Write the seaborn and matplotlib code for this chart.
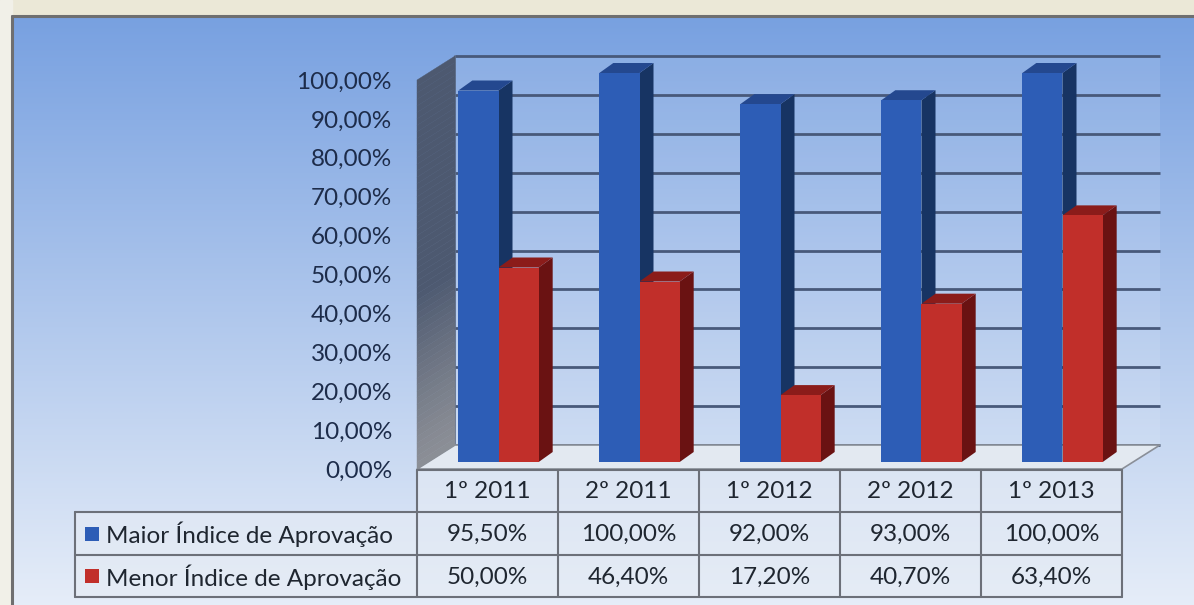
import numpy as np
import pandas as pd
import matplotlib
matplotlib.use("Agg")
import matplotlib.pyplot as plt
from matplotlib.patches import Polygon, Rectangle
from matplotlib.colors import to_hex, to_rgb
import seaborn as sns

# --- data -------------------------------------------------------------
periodos = ["1º 2011", "2º 2011", "1º 2012", "2º 2012", "1º 2013"]
maior = [95.5, 100.0, 92.0, 93.0, 100.0]
menor = [50.0, 46.4, 17.2, 40.7, 63.4]
series = ["Maior Índice de Aprovação", "Menor Índice de Aprovação"]
y_ticks = [0, 10, 20, 30, 40, 50, 60, 70, 80, 90, 100]

cores_frente = ["#2d5db6", "#c12f2a"]
cores_lado = ["#173463", "#6a1212"]
cores_topo = ["#24488f", "#8b1c1a"]


def pct(v):
    return f"{v:.2f}".replace(".", ",") + "%"


df = pd.DataFrame({
    "periodo": periodos * 2,
    "valor": maior + menor,
    "serie": [series[0]] * len(periodos) + [series[1]] * len(periodos),
})

sns.set_theme(style="white")
plt.rcParams["font.family"] = ["Lato", "DejaVu Sans"]
FS = 17.5

W, H, DPI = 1194, 605, 100
fig = plt.figure(figsize=(W / DPI, H / DPI), dpi=DPI, facecolor="#f1f0e8")

# --- background: page strip, frame and vertical gradient ---------------
bg = fig.add_axes([0, 0, 1, 1], zorder=0)
bg.set_xlim(0, W)
bg.set_ylim(H, 0)
bg.axis("off")
top = np.array([0.47, 0.63, 0.88])
bot = np.array([0.93, 0.95, 0.98])
t = np.linspace(0, 1, 256)[:, None, None]
grad = np.repeat(top * (1 - t) + bot * t, 4, axis=1)
bg.imshow(grad, extent=[0, W + 60, H + 40, 16], aspect="auto", zorder=0,
          interpolation="bilinear")
bg.set_xlim(0, W)
bg.set_ylim(H, 0)
bg.add_patch(Rectangle((0, 0), W + 10, 16, color="#ebe8d7", zorder=1))
bg.add_patch(Rectangle((0, 0), 12, H + 10, color="#f1f0e8", zorder=1))
bg.plot([12, W + 5], [16, 16], color="#6f6f70", lw=2.2, zorder=2)
bg.plot([12, 12], [16, H + 5], color="#6f6f70", lw=2.2, zorder=2)

# --- plot axes (front plane of the bars) -------------------------------
PX_X = 141.0          # pixels per category
PX_Y = 3.89           # pixels per percentage point
left_px, base_px = 428, 462
ax = fig.add_axes([left_px / W, (H - base_px) / H, 5 * PX_X / W, 100 * PX_Y / H], zorder=2)
ax.patch.set_alpha(0)

sns.barplot(data=df, x="periodo", y="valor", hue="serie", order=periodos,
            hue_order=series, palette=cores_frente, width=0.57, saturation=1,
            ax=ax, legend=False, linewidth=0, zorder=4)
bar_patches = [p for p in ax.patches if isinstance(p, Rectangle)]
ax.set_xlim(-0.5, 4.5)
ax.set_ylim(0, 100)
ax.axis("off")


def dx(px):
    return px / PX_X


def dy(px):
    return px / PX_Y


# depth offsets (pixels): back wall and floor front relative to the bar plane
back = (27, 17)
front = (-11, -7)
bar_d = (14, 10)

xb0, xb1 = -0.5 + dx(back[0]), 4.5 + dx(back[0])
yb0, yb1 = 0 + dy(back[1]), 100 + dy(back[1])
xf0, xf1 = -0.5 + dx(front[0]), 4.5 + dx(front[0])
yf0, yf1 = 0 + dy(front[1]), 100 + dy(front[1])

# back wall with gridlines
ax.add_patch(Polygon([(xb0, yb0), (xb1, yb0), (xb1, yb1), (xb0, yb1)], closed=True,
                     fc=(1, 1, 1, 0.10), ec="none", zorder=1, clip_on=False))
for v in y_ticks:
    ax.plot([xb0, xb1], [v + dy(back[1])] * 2, color="#48597a", lw=2.0,
            zorder=1.5, clip_on=False, solid_capstyle="butt")
ax.plot([xb0, xb0], [yb0, yb1], color="#5a6a86", lw=1.2, zorder=1.5, clip_on=False)

# floor
ax.add_patch(Polygon([(xf0, yf0), (xf1, yf0), (xb1, yb0), (xb0, yb0)], closed=True,
                     fc="#e3e9f1", ec="#8a8f98", lw=1.2, zorder=2, clip_on=False))

# left side wall, shaded from light grey at the floor to dark slate at the top
c_bot, c_top = np.array(to_rgb("#8c8f96")), np.array(to_rgb("#4d5970"))
steps = 60
for s in range(steps):
    a, b = s / steps, (s + 1) / steps
    f = min(1.0, ((a + b) / 2) / 0.45) ** 1.2
    col = c_bot * (1 - f) + c_top * f
    ya, yb_ = 100 * a, 100 * b
    ax.add_patch(Polygon([(xf0, yf0 + ya), (xf0, yf0 + yb_), (xb0, yb0 + yb_), (xb0, yb0 + ya)],
                         closed=True, fc=col, ec=col, lw=0.3, zorder=2.5, clip_on=False))

# 3D sides and tops of the bars, built from the drawn patches
ddx, ddy = dx(bar_d[0]), dy(bar_d[1])
for p in bar_patches:
    x0, w, h = p.get_x(), p.get_width(), p.get_height()
    k = 0 if to_hex(p.get_facecolor()).lower() == cores_frente[0] else 1
    x1 = x0 + w
    ax.add_patch(Polygon([(x1, 0), (x1, h), (x1 + ddx, h + ddy), (x1 + ddx, ddy)],
                         closed=True, fc=cores_lado[k], ec="none", zorder=3, clip_on=False))
    ax.add_patch(Polygon([(x0, h), (x1, h), (x1 + ddx, h + ddy), (x0 + ddx, h + ddy)],
                         closed=True, fc=cores_topo[k], ec="none", zorder=3, clip_on=False))

# y tick labels along the front edge of the side wall
lab_color = "#1d2c4a"
for v in y_ticks:
    ax.text(xf0 - dx(25), v + dy(front[1] - 2), pct(v), ha="right", va="center",
            fontsize=FS, color=lab_color, clip_on=False)

# --- data table ---------------------------------------------------------
tb = fig.add_axes([0, 0, 1, 1], zorder=3)
tb.set_xlim(0, W)
tb.set_ylim(H, 0)
tb.axis("off")

col0, colw = 417, 141
rows = [470, 512, 555, 597]
leg_x = 75
line_c = "#6c7079"
cells_fc = "#e6ecf4"

n = len(periodos)
tb.add_patch(Rectangle((col0, rows[0]), n * colw, rows[3] - rows[0], fc=cells_fc,
                       ec="none", alpha=0.6))
tb.add_patch(Rectangle((leg_x, rows[1]), col0 - leg_x, rows[3] - rows[1], fc=cells_fc,
                       ec="none", alpha=0.6))
# horizontal lines
tb.plot([col0, col0 + n * colw], [rows[0]] * 2, color=line_c, lw=1.5)
for r in rows[1:]:
    tb.plot([leg_x, col0 + n * colw], [r] * 2, color=line_c, lw=1.5)
# vertical lines
for i in range(n + 1):
    tb.plot([col0 + i * colw] * 2, [rows[0], rows[3]], color=line_c, lw=1.5)
tb.plot([leg_x] * 2, [rows[1], rows[3]], color=line_c, lw=1.5)

txt_c = "#1f2630"
for i, per in enumerate(periodos):
    cx = col0 + (i + 0.5) * colw
    tb.text(cx, (rows[0] + rows[1]) / 2 + 1, per, ha="center", va="center",
            fontsize=FS, color=txt_c)
    tb.text(cx, (rows[1] + rows[2]) / 2 + 1, pct(maior[i]), ha="center", va="center",
            fontsize=FS, color=txt_c)
    tb.text(cx, (rows[2] + rows[3]) / 2 + 1, pct(menor[i]), ha="center", va="center",
            fontsize=FS, color=txt_c)

for j, nome in enumerate(series):
    cy = (rows[j + 1] + rows[j + 2]) / 2
    tb.add_patch(Rectangle((leg_x + 10, cy - 7), 14, 14, fc=cores_frente[j], ec="none"))
    tb.text(leg_x + 31, cy + 1, nome, ha="left", va="center", fontsize=FS, color=txt_c)

fig.savefig("out.png", dpi=DPI, facecolor=fig.get_facecolor())
